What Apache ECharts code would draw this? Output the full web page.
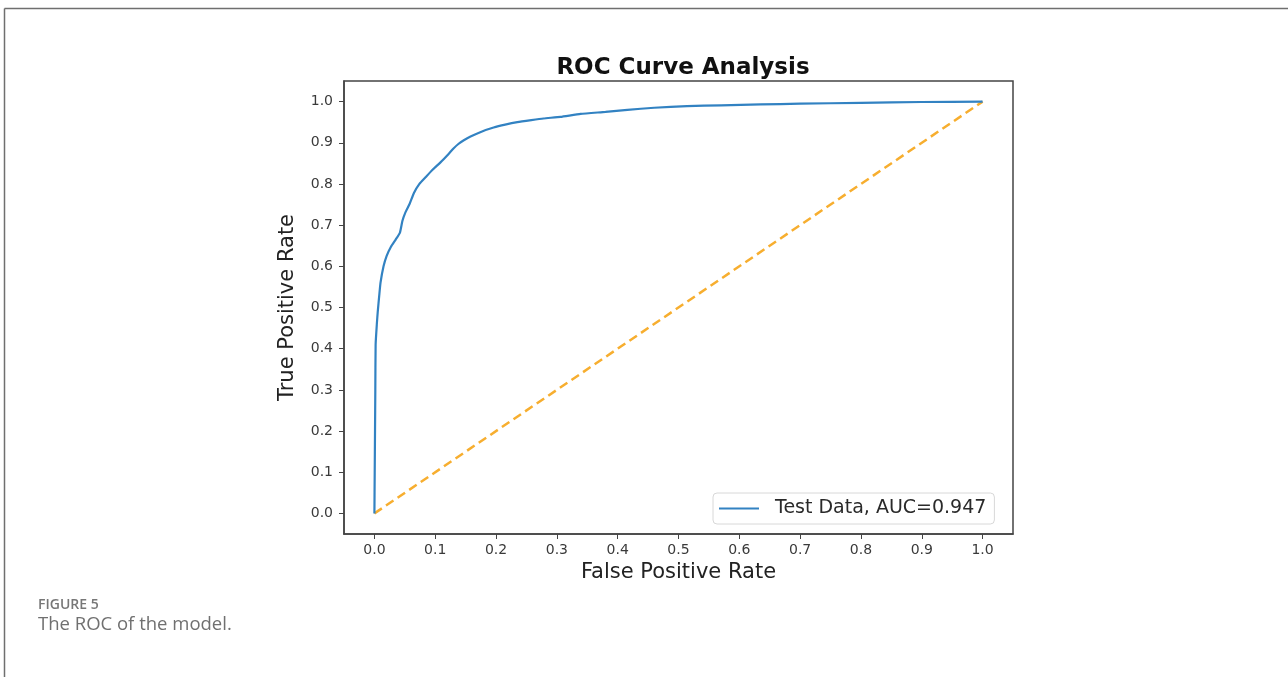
<!DOCTYPE html>
<html>
<head>
<meta charset="utf-8">
<script src="https://cdn.jsdelivr.net/npm/echarts@6/dist/echarts.min.js"></script>
<style>
  html, body { margin: 0; padding: 0; background: #fff; }
  #chart { width: 1288px; height: 677px; }
</style>
</head>
<body>
<div id="chart"></div>
<script>
// ROC curve points: [false positive rate, true positive rate]
const rocPoints = [
  [0, 0], [0.0005, 0.1], [0.001, 0.2], [0.0015, 0.3], [0.002, 0.41],
  [0.004, 0.46], [0.0055, 0.49], [0.008, 0.53], [0.01, 0.56], [0.015, 0.6],
  [0.02, 0.625], [0.027, 0.647], [0.035, 0.665], [0.042, 0.682], [0.046, 0.71],
  [0.051, 0.731], [0.058, 0.752], [0.065, 0.778], [0.074, 0.8], [0.084, 0.816],
  [0.096, 0.835], [0.109, 0.853], [0.122, 0.873], [0.13, 0.886], [0.138, 0.897],
  [0.147, 0.906], [0.158, 0.915], [0.176, 0.927], [0.196, 0.937], [0.215, 0.944],
  [0.235, 0.95], [0.258, 0.955], [0.278, 0.959], [0.306, 0.963], [0.339, 0.97],
  [0.38, 0.975], [0.416, 0.98], [0.46, 0.985], [0.514, 0.989], [0.57, 0.991],
  [0.635, 0.993], [0.7, 0.995], [0.8, 0.997], [0.9, 0.999], [1.0, 1.0]
];
const chancePoints = [[0, 0], [1, 1]];
const tickValues = [0, 0.1, 0.2, 0.3, 0.4, 0.5, 0.6, 0.7, 0.8, 0.9, 1.0];
const seriesName = "Test Data, AUC=0.947";

const chart = echarts.init(document.getElementById("chart"));
const font = "DejaVu Sans";

const axisCommon = {
  type: "value",
  min: -0.05,
  max: 1.05,
  splitLine: { show: false },
  axisLine: { show: true, onZero: false, lineStyle: { color: "#444", width: 1.5 } },
  axisTick: { show: true, customValues: tickValues, length: 5, lineStyle: { color: "#444", width: 1 } },
  axisLabel: {
    customValues: tickValues,
    formatter: (v) => v.toFixed(1),
    fontFamily: font,
    fontSize: 14,
    color: "#3a3a3a"
  },
  nameLocation: "middle",
  nameTextStyle: { fontFamily: font, fontSize: 21, color: "#222" }
};

chart.setOption({
  animation: false,
  title: {
    text: "ROC Curve Analysis",
    left: 678,
    textAlign: "center",
    top: 52,
    textStyle: { fontFamily: font, fontSize: 23, fontWeight: "bold", color: "#111" }
  },
  grid: {
    left: 344, top: 81, right: 275, bottom: 143,
    show: true, borderColor: "#444", borderWidth: 1.5, backgroundColor: "#fff"
  },
  xAxis: Object.assign({}, axisCommon, {
    name: "False Positive Rate",
    nameGap: 28,
    axisLabel: Object.assign({}, axisCommon.axisLabel, { margin: 9 })
  }),
  yAxis: Object.assign({}, axisCommon, {
    name: "True Positive Rate",
    nameGap: 46,
    axisLabel: Object.assign({}, axisCommon.axisLabel, { margin: 11 })
  }),
  legend: {
    data: [seriesName],
    left: 713,
    top: 493,
    padding: [6, 8, 6, 6],
    icon: "rect",
    itemWidth: 40,
    itemHeight: 2,
    backgroundColor: "#fff",
    borderColor: "#d8d8d8",
    borderWidth: 1,
    borderRadius: 4,
    textStyle: { fontFamily: font, fontSize: 19, color: "#2a2a2a", padding: [0, 0, 0, 11] }
  },
  graphic: [
    { type: "line", shape: { x1: 4.5, y1: 8.5, x2: 1288, y2: 8.5 }, style: { stroke: "#6f6f6f", lineWidth: 1.5 } },
    { type: "line", shape: { x1: 4.5, y1: 8.5, x2: 4.5, y2: 677 }, style: { stroke: "#6f6f6f", lineWidth: 1.5 } },
    { type: "text", left: 38, top: 598, style: { text: "FIGURE 5", font: "600 14px 'Open Sans'", fill: "#777" } },
    { type: "text", left: 38, top: 615, style: { text: "The ROC of the model.", font: "18.5px 'Open Sans'", fill: "#707070" } }
  ],
  series: [
    {
      name: seriesName,
      type: "line",
      data: rocPoints,
      showSymbol: false,
      symbol: "none",
      smooth: 0.15,
      lineStyle: { color: "#3282c2", width: 2.2 },
      itemStyle: { color: "#3282c2" },
      z: 3
    },
    {
      name: "chance",
      type: "line",
      data: chancePoints,
      showSymbol: false,
      symbol: "none",
      lineStyle: { color: "#f7ae2f", width: 2.5, type: [9, 5] },
      itemStyle: { color: "#f7ae2f" },
      z: 2
    }
  ]
});
</script>
</body>
</html>
